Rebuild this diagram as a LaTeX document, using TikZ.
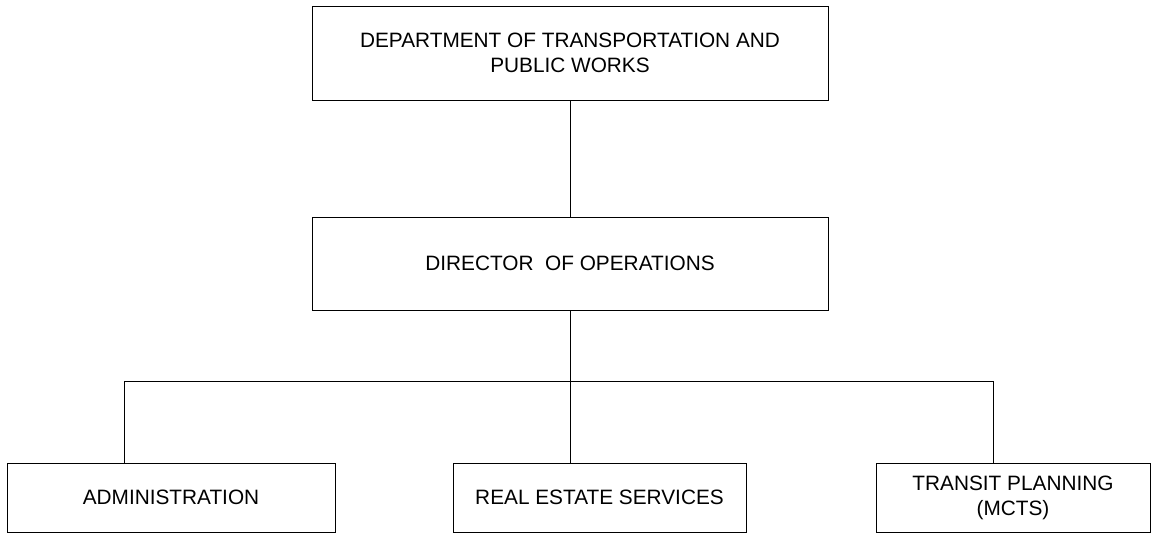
\documentclass[tikz,border=0pt]{standalone}
\usepackage{fontspec}
\setmainfont{Liberation Sans}
\begin{document}
\begin{tikzpicture}[x=1pt,y=-1pt,
  box/.style={draw=black,line width=0.9pt,rectangle,inner sep=0pt,align=center,
    font=\fontsize{20.8}{25}\selectfont},
  link/.style={draw=black,line width=0.9pt}]
  \useasboundingbox (0,0) rectangle (1151,534);
  % boxes
  \node[box,minimum width=516,minimum height=94] (dep) at (570,53)
    {DEPARTMENT OF TRANSPORTATION AND\\PUBLIC WORKS};
  \node[box,minimum width=516,minimum height=93] (dir) at (570,263.5)
    {DIRECTOR\ \ OF OPERATIONS};
  \node[box,minimum width=328,minimum height=69] (adm) at (171,497.5)
    {ADMINISTRATION};
  \node[box,minimum width=293,minimum height=69] (res) at (599.5,497.5)
    {REAL ESTATE SERVICES};
  \node[box,minimum width=274,minimum height=69] (trn) at (1013,497.5)
    {TRANSIT PLANNING\\(MCTS)};
  % bus line ends
  \coordinate (bl) at (124,381);
  \coordinate (br) at (993,381);
  % connectors
  \draw[link] (dep.south) -- (dir.south |- dep.south) -- (dir.north);
  \draw[link] (dir.south) -- (res.north -| dir.south);
  \draw[link] (adm.north -| bl) -- (bl) -- (br) -- (trn.north -| br);
\end{tikzpicture}
\end{document}
